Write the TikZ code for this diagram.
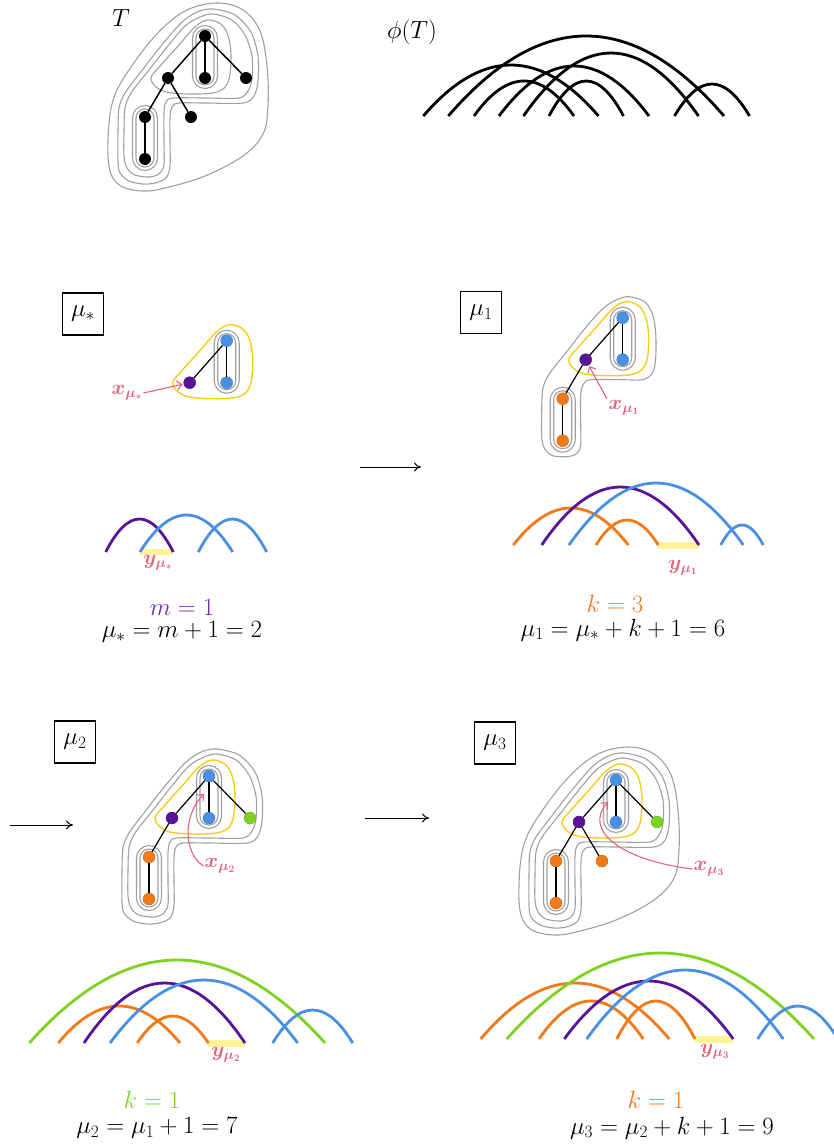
\documentclass[tikz,border=0pt]{standalone}
\usepackage{amsmath}
\usetikzlibrary{arrows.meta,calc}
\definecolor{cpurple}{RGB}{88,20,150}
\definecolor{tpurple}{RGB}{110,40,180}
\definecolor{cblue}{RGB}{74,144,226}
\definecolor{corange}{RGB}{240,122,26}
\definecolor{cgreen}{RGB}{126,211,33}
\definecolor{cpink}{RGB}{228,100,122}
\definecolor{cyellow}{RGB}{245,205,30}
\definecolor{chl}{RGB}{255,243,150}
\definecolor{cgray}{RGB}{160,160,160}
\newcommand{\arcd}[5]{%
  \pgfmathsetmacro{\xa}{#2+(#3-#2)/3}%
  \pgfmathsetmacro{\xb}{#3-(#3-#2)/3}%
  \pgfmathsetmacro{\yc}{#4-4*#5/3}%
  \draw[arcline,#1] (#2,#4) .. controls (\xa,\yc) and (\xb,\yc) .. (#3,#4);}
\tikzset{
 dot/.style={circle,inner sep=0pt,minimum size=12pt},
 bdot/.style={dot,fill=black},
 cdot/.style={dot,fill=#1,draw=#1!85!black,line width=0.4pt},
 tedge/.style={line width=1.5pt},
 cedge/.style={line width=1.2pt},
 contour/.style={draw=cgray,line width=1.1pt},
 ycontour/.style={draw=cyellow,line width=1.4pt},
 arcline/.style={line width=2.8pt},
 big/.style={font=\fontsize{23}{27}\selectfont},
 huge/.style={font=\fontsize{26}{30}\selectfont},
 lbl/.style={font=\fontsize{19.5}{23}\selectfont,text=cpink,inner sep=1pt},
 pinkarrow/.style={draw=cpink,line width=1.1pt,-{Straight Barb[length=5pt,width=9pt]}},
 mubox/.style={draw,line width=1.1pt,minimum width=41pt,minimum height=42pt,inner sep=0pt,big},
 steparrow/.style={line width=1pt,-{To[length=7pt,width=9pt]}},
 hl/.style={fill=chl},
 pics/cbox/.style={code={
   \draw[#1,rounded corners=9pt] (-9,-7) rectangle (9,49);
   \draw[#1,rounded corners=12.5pt] (-12.5,-10.5) rectangle (12.5,52.5);}},
 pics/dbox/.style={code={
   \draw[#1,rounded corners=9pt] (-69,73) rectangle (-51,131);
   \draw[#1,rounded corners=12.5pt] (-72.5,69.5) rectangle (-47.5,134.5);}},
 pics/cthree/.style={code={\draw[#1] plot[smooth cycle,tension=0.6] coordinates {(-54,43) (-44,29) (-26,9) (-10,-9) (3,-16) (17,-11) (24,3) (26,24) (23,46) (12,56) (-15,58) (-42,55)};}},
 pics/pmu/.style={code={\draw[#1] plot[smooth cycle,tension=0.5] coordinates {(6,-21) (22,-16) (30,-3) (33,15) (33,40) (30,55) (20,62) (0,62) (-32,62) (-39,66) (-42,77) (-42,105) (-42,127) (-46,136) (-56,139) (-70,138) (-78,131) (-81,120) (-81,95) (-80,72) (-74,57) (-56,34) (-38,11) (-20,-9) (-6,-18)};}},
 pics/ppair/.style={code={
   \draw[#1] plot[smooth cycle,tension=0.5] coordinates {(8,-22) (27,-16) (40,-1) (47,20) (47,43) (43,55) (34,62) (0,62) (-32,62) (-39,66) (-41,77) (-41,105) (-41,128) (-45,137) (-55,141) (-70,139) (-78,132) (-81,120) (-81,95) (-80,72) (-74,57) (-56,34) (-38,11) (-20,-10) (-5,-19)};
   \draw[#1] plot[smooth cycle,tension=0.5] coordinates {(8,-27) (30,-21) (46,-4) (53,20) (53,45) (49,60) (38,67) (0,67) (-26,67) (-33,71) (-35,82) (-35,105) (-35,130) (-39,142) (-50,147) (-62,148) (-76,145) (-85,137) (-87,125) (-87,95) (-86,72) (-80,57) (-62,33) (-44,10) (-24,-13) (-8,-24)};}},
 pics/blob/.style={code={\draw[#1] plot[smooth cycle,tension=0.6] coordinates {(12,-33) (38,-26) (55,-5) (62,30) (63,70) (58,98) (38,120) (0,140) (-40,152) (-62,155) (-84,150) (-95,135) (-97,105) (-93,68) (-80,40) (-50,0) (-20,-25)};}},
}
\begin{document}
\begin{tikzpicture}[x=1pt,y=-1pt]
\useasboundingbox (0,0) rectangle (834,1144);

% ---------------- T ----------------
\node[huge] (Tlab) at (121,18) {$T$};
\begin{scope}[shift={(205,36)}]
 \pic {cbox=contour}; \pic {dbox=contour}; \pic {cthree=contour};
 \pic {ppair=contour}; \pic {blob=contour};
 \node[bdot] (T-r) at (0,0) {};
 \node[bdot] (T-a) at (-37,42) {};
 \node[bdot] (T-b) at (0,42) {};
 \node[bdot] (T-c) at (41,42) {};
 \node[bdot] (T-d) at (-60,81) {};
 \node[bdot] (T-e) at (-14,81) {};
 \node[bdot] (T-f) at (-60,123) {};
 \draw[tedge] (T-r)--(T-a); \draw[tedge] (T-r)--(T-b); \draw[tedge] (T-r)--(T-c);
 \draw[tedge] (T-a)--(T-d); \draw[tedge] (T-a)--(T-e); \draw[tedge] (T-d)--(T-f);
\end{scope}

% ---------------- phi(T) ----------------
\node[huge] (phil) at (412,32) {$\phi(T)$};
\arcd{black}{423.3}{598.5}{116}{51}
\arcd{black}{448.3}{724}{116}{80}
\arcd{black}{474}{574}{116}{35}
\arcd{black}{499}{649}{116}{50}
\arcd{black}{523.5}{698.5}{116}{63}
\arcd{black}{549}{623.5}{116}{35}
\arcd{black}{674.5}{749.5}{116}{32}

% ---------------- mu_* ----------------
\node[mubox] (B0) at (83,314) {$\mu_*$};
\begin{scope}[shift={(226.7,340.7)}]
 \pic {cthree=ycontour}; \pic {cbox=contour};
 \node[cdot=cblue] (S-r) at (0,0) {};
 \node[cdot=cpurple] (S-a) at (-37,42) {};
 \node[cdot=cblue] (S-b) at (0,42) {};
 \draw[cedge] (S-r)--(S-a); \draw[cedge] (S-r)--(S-b);
\end{scope}
\node[lbl] (xs) at (127,393) {$\boldsymbol{x_{\mu_*}}$};
\draw[pinkarrow,shorten >=1pt] (xs.east) -- (S-a);
\fill[hl] (140,548.5) rectangle (173.3,555);
\arcd{cpurple}{105.7}{173.3}{552}{33}
\arcd{cblue}{140}{232.7}{552}{37}
\arcd{cblue}{198.3}{266.7}{552}{33}
\node[lbl] (ys) at (158,563) {$\boldsymbol{y_{\mu_*}}$};
\node[big,text=tpurple] (m1) at (182,607) {$m=1$};
\node[big] (e0) at (182,632) {$\mu_*=m+1=2$};

\coordinate (a1s) at (360,467); \coordinate (a1e) at (421,467);
\draw[steparrow] (a1s) -- (a1e);

% ---------------- mu_1 ----------------
\node[mubox] (B1) at (481,312.5) {$\mu_1$};
\begin{scope}[shift={(622.7,317.7)}]
 \pic {cbox=contour}; \pic {dbox=contour}; \pic {cthree=ycontour}; \pic {pmu=contour};
 \node[cdot=cblue] (U-r) at (0,0) {};
 \node[cdot=cpurple] (U-a) at (-37,42) {};
 \node[cdot=cblue] (U-b) at (0,42) {};
 \node[cdot=corange] (U-d) at (-60,81) {};
 \node[cdot=corange] (U-f) at (-60,123) {};
 \draw[cedge] (U-r)--(U-a); \draw[cedge] (U-r)--(U-b);
 \draw[cedge] (U-a)--(U-d); \draw[cedge] (U-d)--(U-f);
\end{scope}
\node[lbl] (x1) at (624,408) {$\boldsymbol{x_{\mu_1}}$};
\coordinate (x1s) at (607,399);
\draw[pinkarrow,shorten >=1pt] (x1s) -- (U-a);
\fill[hl] (658.3,542) rectangle (699,549);
\arcd{corange}{513.3}{628.3}{545}{37}
\arcd{cpurple}{541.7}{699}{545}{58}
\arcd{cblue}{569}{743.3}{545}{62}
\arcd{corange}{596}{658.3}{545}{25}
\arcd{cblue}{720.7}{763.3}{545}{20}
\node[lbl] (y1) at (683,568) {$\boldsymbol{y_{\mu_1}}$};
\node[big,text=corange] (k3) at (615,604) {$k=3$};
\node[big] (e1) at (623,630) {$\mu_1=\mu_*+k+1=6$};

% ---------------- mu_2 ----------------
\coordinate (a2s) at (10,825); \coordinate (a2e) at (73,825);
\draw[steparrow] (a2s) -- (a2e);
\node[mubox] (B2) at (75,742) {$\mu_2$};
\begin{scope}[shift={(209,776)}]
 \pic {cbox=contour}; \pic {dbox=contour}; \pic {cthree=ycontour}; \pic {ppair=contour};
 \node[cdot=cblue] (V-r) at (0,0) {};
 \node[cdot=cpurple] (V-a) at (-37,42) {};
 \node[cdot=cblue] (V-b) at (0,42) {};
 \node[cdot=cgreen] (V-c) at (41,42) {};
 \node[cdot=corange] (V-d) at (-60,81) {};
 \node[cdot=corange] (V-f) at (-60,123) {};
 \draw[cedge] (V-r)--(V-a); \draw[cedge] (V-r)--(V-b); \draw[cedge] (V-r)--(V-c);
 \draw[cedge] (V-a)--(V-d); \draw[cedge] (V-d)--(V-f);
 \coordinate (V-t) at (-5,18);
\end{scope}
\node[lbl] (x2) at (220,866) {$\boldsymbol{x_{\mu_2}}$};
\draw[pinkarrow] (x2.west) .. controls (183,853) and (183,815) .. (V-t);
\fill[hl] (208.3,1039.5) rectangle (245,1046.5);
\arcd{cgreen}{29.3}{325}{1043}{83}
\arcd{corange}{58.3}{180}{1043}{37}
\arcd{cpurple}{84}{245}{1043}{60}
\arcd{cblue}{110}{297.7}{1043}{63}
\arcd{corange}{137.3}{208.3}{1043}{27}
\arcd{cblue}{272.7}{352.7}{1043}{33}
\node[lbl] (y2) at (226,1055) {$\boldsymbol{y_{\mu_2}}$};
\node[big,text=cgreen] (k1a) at (152,1100) {$k=1$};
\node[big] (e2) at (157,1128) {$\mu_2=\mu_1+1=7$};

% ---------------- mu_3 ----------------
\coordinate (a3s) at (365,818); \coordinate (a3e) at (429,818);
\draw[steparrow] (a3s) -- (a3e);
\node[mubox] (B3) at (495,743) {$\mu_3$};
\begin{scope}[shift={(616,780)}]
 \pic {cbox=contour}; \pic {dbox=contour}; \pic {cthree=ycontour};
 \pic {ppair=contour}; \pic {blob=contour};
 \node[cdot=cblue] (W-r) at (0,0) {};
 \node[cdot=cpurple] (W-a) at (-37,42) {};
 \node[cdot=cblue] (W-b) at (0,42) {};
 \node[cdot=cgreen] (W-c) at (41,42) {};
 \node[cdot=corange] (W-d) at (-60,81) {};
 \node[cdot=corange] (W-e) at (-14,81) {};
 \node[cdot=corange] (W-f) at (-60,123) {};
 \draw[cedge] (W-r)--(W-a); \draw[cedge] (W-r)--(W-b); \draw[cedge] (W-r)--(W-c);
 \draw[cedge] (W-a)--(W-d); \draw[cedge] (W-a)--(W-e); \draw[cedge] (W-d)--(W-f);
 \coordinate (W-t) at (-8,22);
\end{scope}
\node[lbl] (x3) at (709,869) {$\boldsymbol{x_{\mu_3}}$};
\draw[pinkarrow] (x3.west) .. controls (620,860) and (583,830) .. (W-t);
\fill[hl] (695,1035.5) rectangle (733.3,1042.5);
\arcd{corange}{480.7}{669.3}{1039}{56}
\arcd{cgreen}{506.7}{814}{1039}{86}
\arcd{corange}{539}{643.3}{1039}{38}
\arcd{cpurple}{564.3}{733.3}{1039}{58}
\arcd{cblue}{586.7}{783.3}{1039}{69}
\arcd{corange}{616.7}{695}{1039}{38}
\arcd{cblue}{757.7}{838}{1039}{33}
\node[lbl] (y3) at (715,1052) {$\boldsymbol{y_{\mu_3}}$};
\node[big,text=corange] (k1b) at (656,1100) {$k=1$};
\node[big] (e3) at (672,1128) {$\mu_3=\mu_2+k+1=9$};
\end{tikzpicture}
\end{document}
